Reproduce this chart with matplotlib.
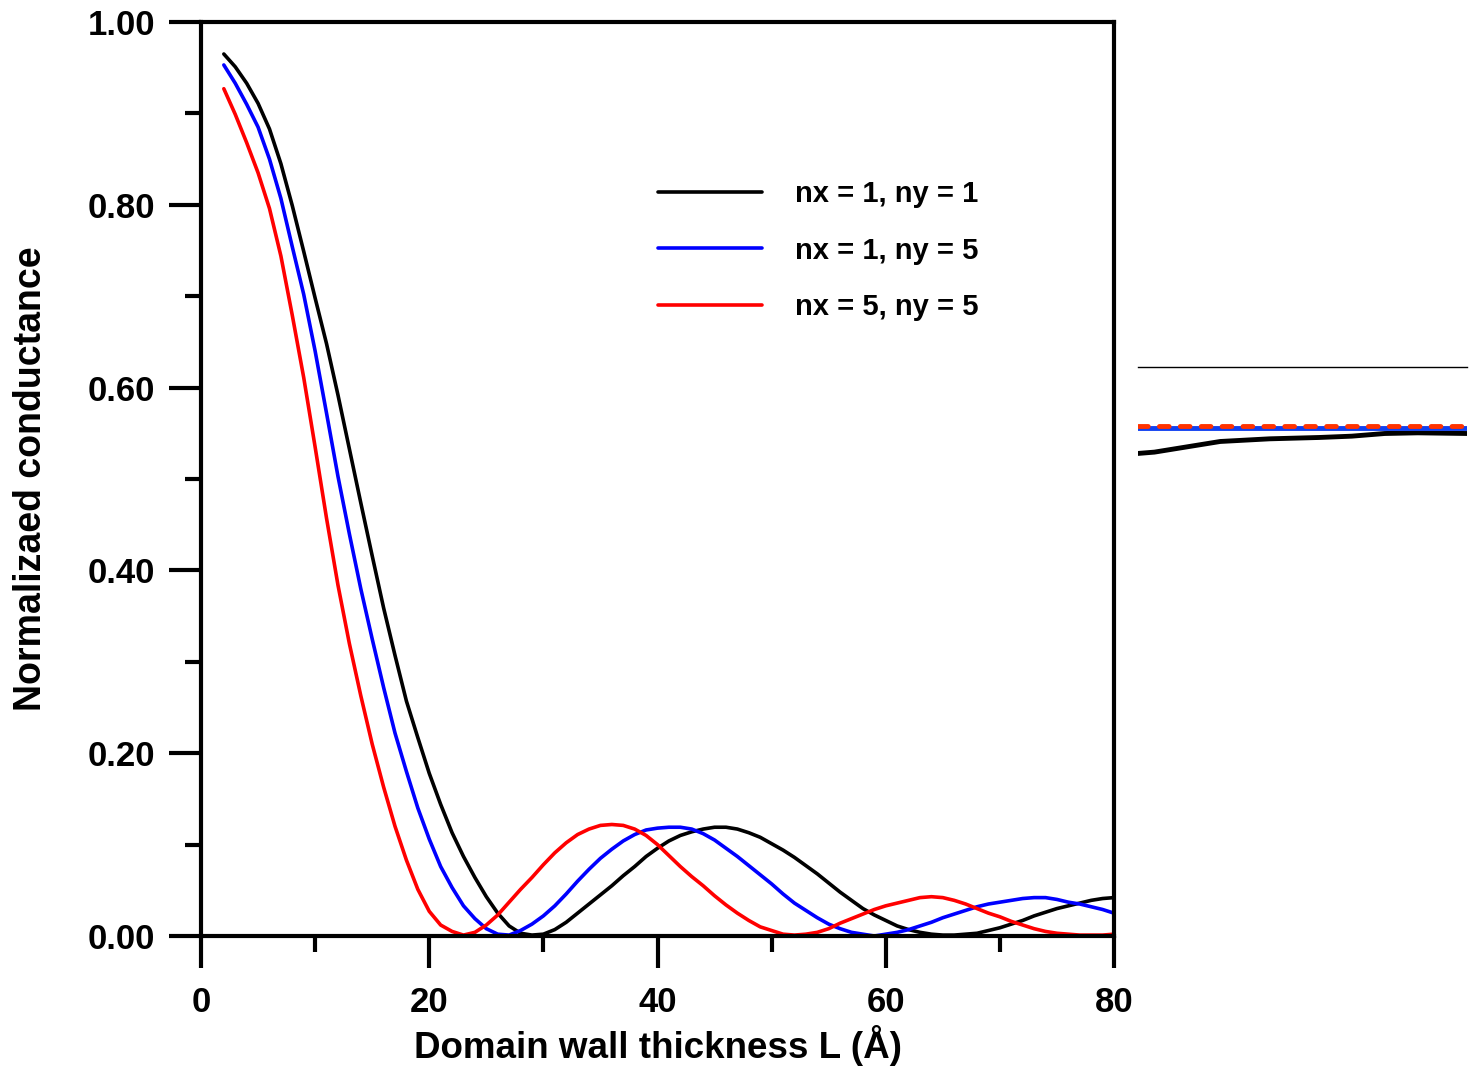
import matplotlib
matplotlib.use("Agg")
import matplotlib.pyplot as plt
from matplotlib.ticker import MultipleLocator, FormatStrFormatter

plt.rcParams['font.family'] = ['Liberation Sans', 'DejaVu Sans']
plt.rcParams['font.weight'] = 'bold'

# Domain wall thickness L (Angstrom), 2 .. 80
L = list(range(2, 81))

# Normalized conductance for each (nx, ny) mode
g_11 = [0.965, 0.951, 0.933, 0.911, 0.883, 0.845, 0.799, 0.749, 0.698, 0.648,
        0.592, 0.533, 0.474, 0.416, 0.359, 0.307, 0.257, 0.217, 0.178, 0.144,
        0.113, 0.087, 0.064, 0.043, 0.025, 0.011, 0.003, 0.001, 0.002, 0.007,
        0.015, 0.025, 0.035, 0.045, 0.055, 0.066, 0.076, 0.087, 0.096, 0.104,
        0.110, 0.114, 0.117, 0.119, 0.119, 0.117, 0.113, 0.108, 0.101, 0.094,
        0.086, 0.077, 0.068, 0.058, 0.048, 0.039, 0.030, 0.023, 0.017, 0.011,
        0.007, 0.004, 0.002, 0.001, 0.001, 0.002, 0.003, 0.006, 0.009, 0.013,
        0.017, 0.022, 0.026, 0.030, 0.033, 0.036, 0.039, 0.041, 0.042]

g_15 = [0.953, 0.933, 0.910, 0.885, 0.850, 0.807, 0.754, 0.702, 0.640, 0.572,
        0.503, 0.440, 0.380, 0.325, 0.272, 0.222, 0.180, 0.140, 0.106, 0.076,
        0.053, 0.033, 0.019, 0.008, 0.002, 0.001, 0.006, 0.013, 0.022, 0.033,
        0.046, 0.060, 0.073, 0.085, 0.095, 0.104, 0.111, 0.116, 0.118, 0.119,
        0.119, 0.117, 0.112, 0.105, 0.096, 0.087, 0.077, 0.067, 0.057, 0.046,
        0.036, 0.028, 0.020, 0.013, 0.008, 0.004, 0.002, 0.000, 0.002, 0.004,
        0.007, 0.011, 0.015, 0.020, 0.024, 0.028, 0.032, 0.035, 0.037, 0.039,
        0.041, 0.042, 0.042, 0.040, 0.037, 0.035, 0.032, 0.029, 0.025]

g_55 = [0.927, 0.899, 0.868, 0.835, 0.796, 0.744, 0.679, 0.611, 0.535, 0.457,
        0.384, 0.320, 0.263, 0.210, 0.163, 0.120, 0.083, 0.051, 0.027, 0.012,
        0.005, 0.001, 0.004, 0.012, 0.023, 0.037, 0.051, 0.064, 0.078, 0.091,
        0.102, 0.111, 0.117, 0.121, 0.122, 0.121, 0.117, 0.110, 0.100, 0.088,
        0.076, 0.065, 0.055, 0.044, 0.034, 0.025, 0.017, 0.010, 0.006, 0.002,
        0.001, 0.002, 0.004, 0.008, 0.014, 0.019, 0.024, 0.029, 0.033, 0.036,
        0.039, 0.042, 0.043, 0.042, 0.039, 0.035, 0.030, 0.025, 0.021, 0.016,
        0.012, 0.008, 0.005, 0.003, 0.002, 0.001, 0.001, 0.001, 0.002]

labels = ['nx = 1, ny = 1', 'nx = 1, ny = 5', 'nx = 5, ny = 5']
colors = ['black', '#0000ff', '#ff0000']

# Side strip: partial traces of a neighbouring panel
side_x = [0, 5, 15, 25, 40, 55, 65, 75, 85, 100]
side_black = [0.35, 0.36, 0.40, 0.44, 0.46, 0.47, 0.48, 0.50, 0.505, 0.50]
side_blue = [0.54, 0.54, 0.54, 0.54, 0.54, 0.54, 0.54, 0.54, 0.54, 0.54]
side_red = [0.555, 0.555, 0.555, 0.555, 0.555, 0.555, 0.555, 0.555, 0.555, 0.555]

W, H = 1476, 1067
fig = plt.figure(figsize=(W / 100, H / 100), dpi=100)
ax = fig.add_axes([201 / W, 1 - 936 / H, (1114 - 201) / W, (936 - 22) / H])

for y, lab, c in zip([g_11, g_15, g_55], labels, colors):
    ax.plot(L, y, color=c, lw=2.6, label=lab, solid_capstyle='round',
            solid_joinstyle='round')

ax.set_xlim(0, 80)
ax.set_ylim(0, 1.0)
ax.xaxis.set_major_locator(MultipleLocator(20))
ax.xaxis.set_minor_locator(MultipleLocator(10))
ax.yaxis.set_major_locator(MultipleLocator(0.2))
ax.yaxis.set_minor_locator(MultipleLocator(0.1))
ax.yaxis.set_major_formatter(FormatStrFormatter('%.2f'))

for s in ax.spines.values():
    s.set_linewidth(3.0)
ax.tick_params(which='major', direction='out', length=23, width=3.0,
               labelsize=25, pad=10)
ax.tick_params(axis='x', which='major', pad=13)
ax.tick_params(which='minor', direction='out', length=11.5, width=3.0)
for t in ax.get_xticklabels() + ax.get_yticklabels():
    t.set_fontweight('bold')

ax.set_xlabel('Domain wall thickness L (Å)', fontsize=26.5, fontweight='bold',
              labelpad=4)
ax.set_ylabel('Normalizaed conductance', fontsize=27, fontweight='bold',
              labelpad=28)

leg = ax.legend(loc='upper left', bbox_to_anchor=(658 / W, 1 - 180 / H),
                bbox_transform=fig.transFigure, frameon=False, fontsize=21,
                handlelength=3.56, handletextpad=1.13, labelspacing=0.98,
                borderpad=0, borderaxespad=0)
for t in leg.get_texts():
    t.set_fontweight('bold')

# Side strip axes
ax2 = fig.add_axes([1138 / W, 1 - 500 / H, (1467 - 1138) / W, (500 - 367) / H])
ax2.set_xlim(0, 100)
ax2.set_ylim(0, 1)
for k in ['left', 'right', 'bottom']:
    ax2.spines[k].set_visible(False)
ax2.spines['top'].set_linewidth(1.0)
ax2.set_xticks([])
ax2.set_yticks([])
ax2.patch.set_alpha(0)
ax2.plot(side_x, side_black, color='black', lw=3.5)
ax2.plot(side_x, side_blue, color='#1040f0', lw=3.5)
ax2.plot(side_x, side_red, color='#ff3300', lw=3.5, dashes=(2.0, 2.3),
         dash_capstyle='round')

fig.savefig('out.png', dpi=100)
